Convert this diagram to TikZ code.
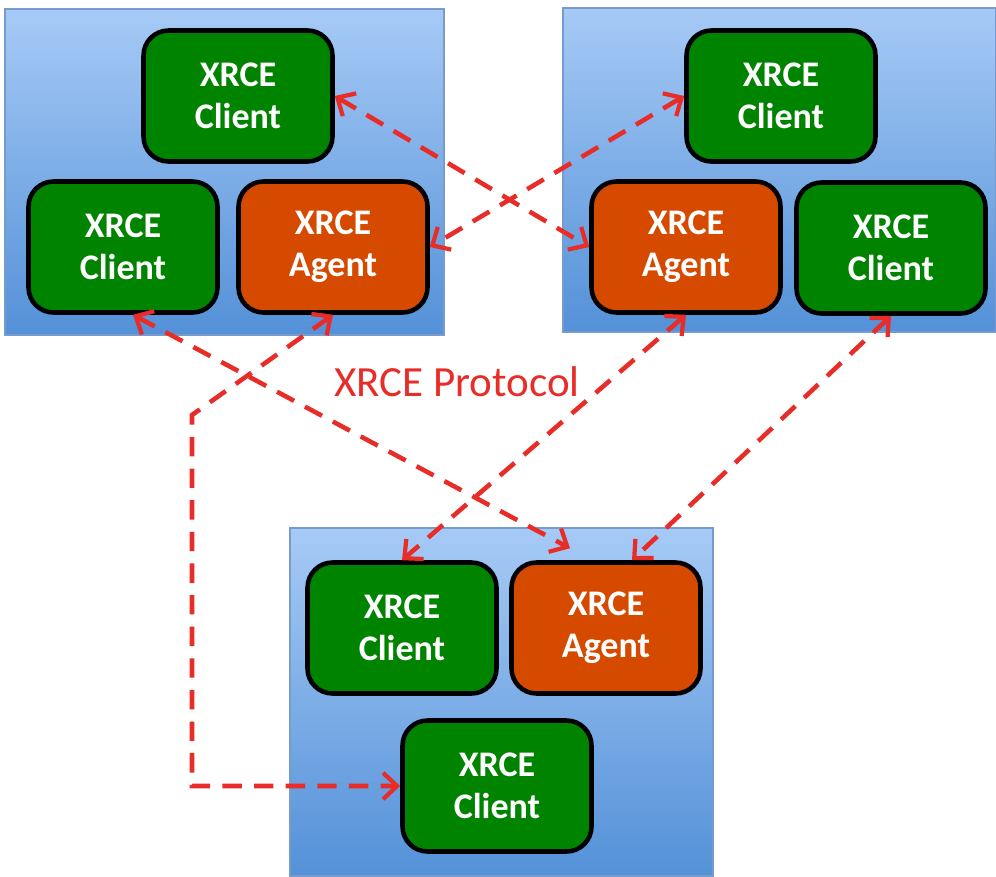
\documentclass[tikz,border=0pt]{standalone}
\usepackage{fontspec}
\setmainfont{Carlito}
\usetikzlibrary{arrows.meta}
\definecolor{xgreen}{RGB}{0,132,0}
\definecolor{xorange}{RGB}{214,74,0}
\definecolor{xred}{RGB}{232,44,40}
\definecolor{ptop}{RGB}{166,202,246}
\definecolor{pbot}{RGB}{84,145,216}
\definecolor{pline}{RGB}{120,155,205}

\begin{document}
\begin{tikzpicture}[x=0.02cm,y=-0.02cm,
  panel/.style={draw=pline,line width=0.6pt,top color=ptop,bottom color=pbot},
  box/.style={draw=black,line width=2.6pt,rounded corners=0.5cm,minimum width=3.78cm,
    minimum height=2.62cm,align=center,text=white,font=\bfseries\fontsize{20.5}{24}\selectfont},
  client/.style={box,fill=xgreen},
  agent/.style={box,fill=xorange},
  link/.style={xred,line width=2.6pt,dash pattern=on 11pt off 7pt,
    {Straight Barb[length=8pt,width=15pt,line width=2.4pt]}-{Straight Barb[length=8pt,width=15pt,line width=2.4pt]}}]
\useasboundingbox (0,0) rectangle (996,876);
% the three panels
\fill[panel] (5,9) rectangle (444,335);
\fill[panel] (563,8) rectangle (996,332);
\fill[panel] (290,528) rectangle (713,876);
% left panel
\node[client] (lTop) at (238,96) {XRCE\\Client};
\node[client] (lLeft) at (123,247) {XRCE\\Client};
\node[agent] (lAgent) at (333,247) {XRCE\\Agent};
% right panel
\node[client] (rTop) at (781,96) {XRCE\\Client};
\node[agent] (rAgent) at (686,247) {XRCE\\Agent};
\node[client] (rRight) at (891,248) {XRCE\\Client};
% bottom panel
\node[client] (bLeft) at (402,628) {XRCE\\Client};
\node[agent] (bAgent) at (606,628) {XRCE\\Agent};
\node[client] (bLow) at (497,786) {XRCE\\Client};
\node[text=xred,font=\fontsize{24.5}{28}\selectfont] (proto) at (457,382) {XRCE Protocol};
% protocol links
\coordinate (bend) at (192,415);
\draw[link] (lTop.east) -- (rAgent.west);
\draw[link] (rTop.west) -- (lAgent.east);
\draw[link] ([xshift=0.2cm]lLeft.south) -- ([xshift=-0.72cm,yshift=0.24cm]bAgent.north);
\draw[link] (lAgent.south) -- (bend) |- (bLow.west);
\draw[link] (rAgent.south) -- (bLeft.north);
\draw[link] (rRight.south) -- ([xshift=0.52cm]bAgent.north);
\end{tikzpicture}
\end{document}
